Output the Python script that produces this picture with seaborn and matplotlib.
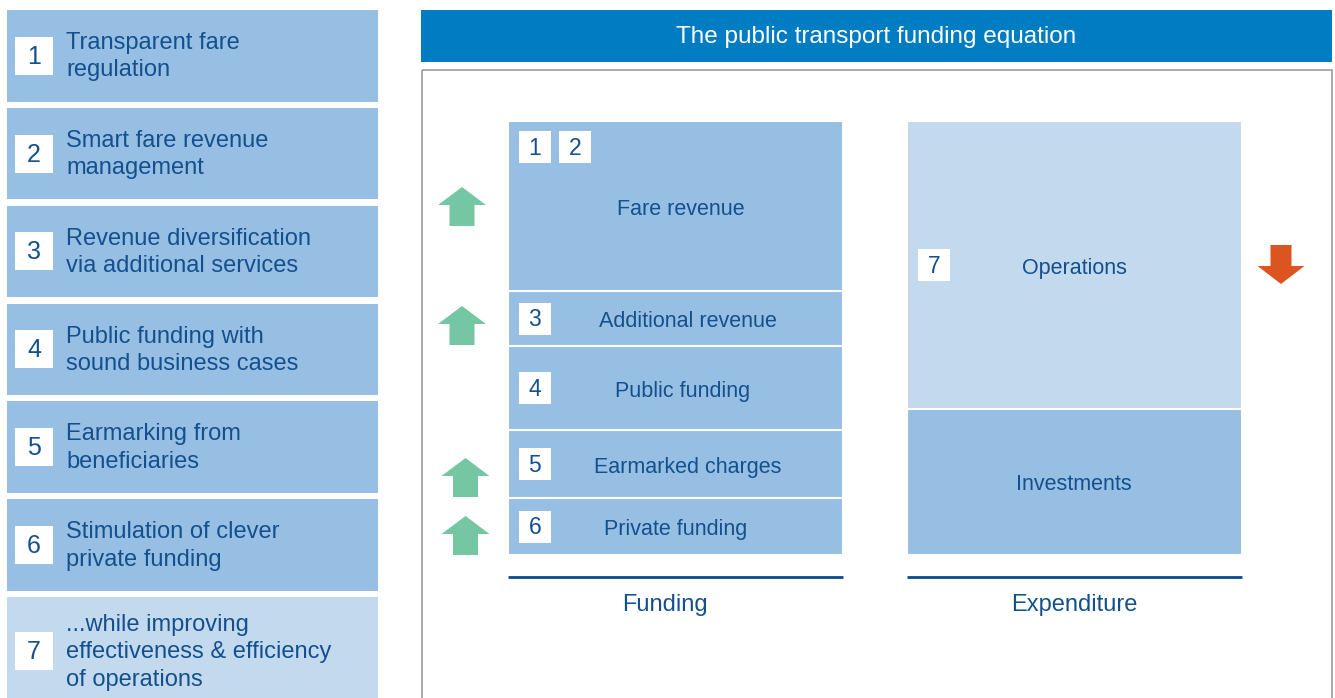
import matplotlib
matplotlib.use('Agg')
import matplotlib.pyplot as plt
from matplotlib.patches import Rectangle, Polygon
from matplotlib.transforms import ScaledTranslation
import pandas as pd
import seaborn as sns

# left-hand list of levers
measure_ids = ['1', '2', '3', '4', '5', '6', '7']
measure_texts = ['Transparent fare\nregulation',
                 'Smart fare revenue\nmanagement',
                 'Revenue diversification\nvia additional services',
                 'Public funding with\nsound business cases',
                 'Earmarking from\nbeneficiaries',
                 'Stimulation of clever\nprivate funding',
                 '...while improving\neffectiveness & efficiency\nof operations']

# the equation, segments listed top to bottom (share of column height)
columns = ['Funding', 'Expenditure']
funding_parts = ['Fare revenue', 'Additional revenue', 'Public funding',
                 'Earmarked charges', 'Private funding']
funding_share = [39.2, 12.6, 19.4, 15.7, 13.1]
funding_ids = [['1', '2'], ['3'], ['4'], ['5'], ['6']]
expend_parts = ['Operations', 'Investments']
expend_share = [66.3, 33.7]
expend_ids = [['7'], []]

title = 'The public transport funding equation'

MID = '#97bfe4'
LIGHT = '#c3d9ee'
TXT = '#13508d'
HEAD = '#007cc3'
GREEN = '#75c7a3'
ORANGE = '#dc5520'

sns.set_theme(style='white')
plt.rcParams['font.family'] = ['Liberation Sans', 'DejaVu Sans']

W, H = 1335, 698
fig = plt.figure(figsize=(W / 100, H / 100), dpi=100)
fig.patch.set_facecolor('white')

# stacked columns (drawn largest cumulative first so they overlap)
rows = []
for col, parts, shares, ids in [('Funding', funding_parts, funding_share, funding_ids),
                                ('Expenditure', expend_parts, expend_share, expend_ids)]:
    base = 0
    for part, share, nums in zip(parts[::-1], shares[::-1], ids[::-1]):
        rows.append(dict(column=col, part=part, share=share, bottom=base,
                         top=base + share, ids=nums))
        base += share
df = pd.DataFrame(rows)
draw_order = df.sort_values('top', ascending=False)['part'].tolist()
colors = {p: MID for p in df['part']}
colors['Operations'] = LIGHT

ax = fig.add_axes([422 / W, (H - 555) / H, 910 / W, 433.7 / H], zorder=1)
ax.patch.set_alpha(0)
bar_w = 334.7 / 399
sns.barplot(data=df, x='column', y='top', hue='part', hue_order=draw_order,
            order=columns, palette=colors, dodge=False, width=bar_w,
            saturation=1, errorbar=None, edgecolor='white', linewidth=1.5,
            legend=False, ax=ax)
left = -(675.3 - 422) / 399
ax.set_xlim(left, left + 910 / 399)
ax.set_ylim(0, 100)
ax.set_yticks([])
ax.set_xlabel('')
ax.set_ylabel('')
sns.despine(ax=ax, left=True, bottom=True)
ax.tick_params(axis='x', length=0, pad=28, labelsize=17, labelcolor=TXT)
# "Funding" sits a little left of its column centre
lab = ax.get_xticklabels()[0]
lab.set_transform(lab.get_transform() + ScaledTranslation(-0.1, 0, fig.dpi_scale_trans))
ax.hlines([-5.14] * 2, [i - bar_w / 2 for i in range(2)],
          [i + bar_w / 2 for i in range(2)], color='#0b4a8a', lw=2,
          clip_on=False)

# segment labels
label_dx = {'Fare revenue': 6, 'Additional revenue': 13, 'Public funding': 7,
            'Earmarked charges': 12}
for _, r in df.iterrows():
    xi = columns.index(r['column'])
    ax.annotate(r['part'], (xi, r['bottom'] + r['share'] / 2),
                xytext=(label_dx.get(r['part'], 0) * 0.72, -2.2),
                textcoords='offset points', ha='center', va='center',
                fontsize=15.5, color=TXT)

# overlay in pixel coordinates
bg = fig.add_axes([0, 0, 1, 1], zorder=2)
bg.patch.set_alpha(0)
bg.set_xlim(0, W)
bg.set_ylim(H, 0)
bg.axis('off')


def num_box(x, y, size, label, fs):
    bg.add_patch(Rectangle((x, y), size, size, facecolor='white', edgecolor='none'))
    bg.text(x + size / 2, y + size / 2 + 1, label, ha='center', va='center',
            fontsize=fs, color=TXT)


def to_px(x, y):
    dx, dy = ax.transData.transform((x, y))
    return dx, H - dy


# left panel
for i, (nid, txt) in enumerate(zip(measure_ids, measure_texts)):
    top = 10 + i * 97.85
    h = 108 if i == 6 else 91.5
    bg.add_patch(Rectangle((7, top), 371, h, facecolor=LIGHT if i == 6 else MID,
                           edgecolor='none'))
    cy = top + (h / 2 if i < 6 else 54)
    num_box(15, cy - 19, 38, nid, 18)
    bg.text(66, cy + 1, txt, ha='left', va='center', fontsize=17, color=TXT,
            linespacing=1.32)

# header and frame
bg.add_patch(Rectangle((421, 10), 911, 52, facecolor=HEAD, edgecolor='none'))
bg.text(876.5, 37, title, ha='center', va='center', fontsize=17.5, color='white')
bg.add_patch(Rectangle((422, 70), 910, 660, facecolor='none',
                       edgecolor='#9c9c9c', lw=1.2))

# number boxes inside the columns
for _, r in df.iterrows():
    if not r['ids']:
        continue
    xi = columns.index(r['column'])
    x0, _ = to_px(xi - bar_w / 2, 0)
    if r['part'] == 'Fare revenue':
        _, ytop = to_px(xi, r['top'])
        y0 = ytop + 10
    else:
        _, ymid = to_px(xi, r['bottom'] + r['share'] / 2)
        y0 = ymid - 16
    for k, nid in enumerate(r['ids']):
        num_box(x0 + 11 + k * 40, y0, 32, nid, 16.5)


def block_arrow(cx, top, bottom, color, up=True, head_w=48, shaft_w=25, head_h=18):
    if up:
        pts = [(cx, top), (cx + head_w / 2, top + head_h), (cx + shaft_w / 2, top + head_h),
               (cx + shaft_w / 2, bottom), (cx - shaft_w / 2, bottom),
               (cx - shaft_w / 2, top + head_h), (cx - head_w / 2, top + head_h)]
    else:
        pts = [(cx, bottom), (cx + head_w / 2, bottom - head_h), (cx + shaft_w / 2, bottom - head_h),
               (cx + shaft_w / 2, top), (cx - shaft_w / 2, top),
               (cx - shaft_w / 2, bottom - head_h), (cx - head_w / 2, bottom - head_h)]
    bg.add_patch(Polygon(pts, closed=True, facecolor=color, edgecolor='none'))


for cx, top in [(462, 187), (462, 306), (465.5, 458), (465.5, 516)]:
    block_arrow(cx, top, top + 39, GREEN)
block_arrow(1281, 245, 284, ORANGE, up=False, head_w=47, shaft_w=21)

fig.savefig('out.png', dpi=100)
